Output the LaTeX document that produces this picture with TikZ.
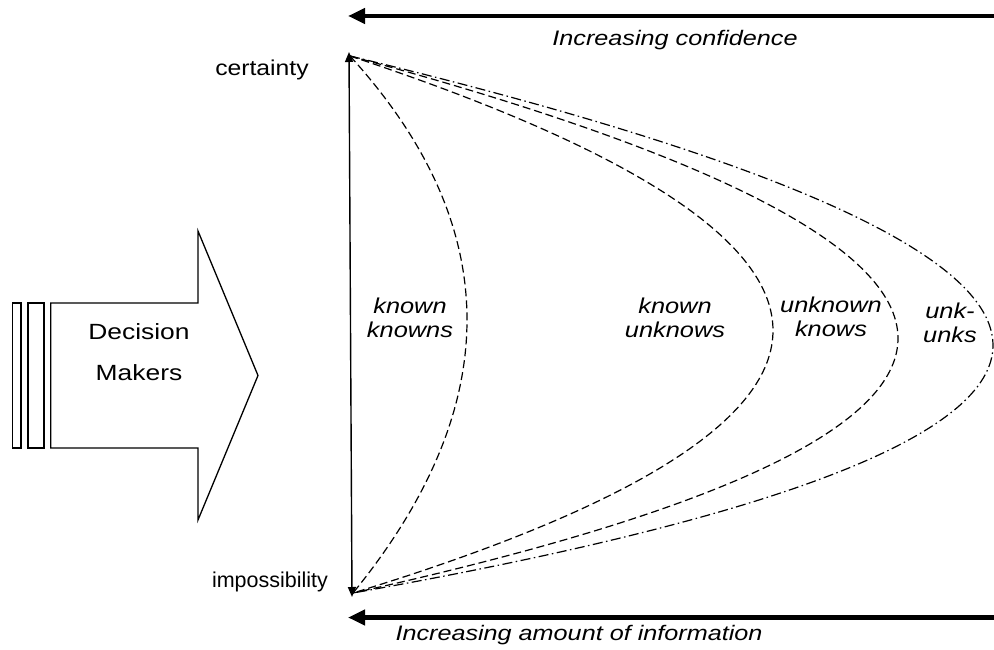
\documentclass[tikz,border=0pt]{standalone}
\usepackage{fontspec}
\setmainfont{Liberation Sans}
\usetikzlibrary{arrows.meta,calc}

\begin{document}
\begin{tikzpicture}[x=1pt,y=-1pt,
  bigarrow/.style={line width=4.5pt,-{Triangle[length=17pt,width=15pt]}},
  scalearrow/.style={line width=1.4pt,{Triangle[length=10pt,width=8pt]}-{Triangle[length=10pt,width=8pt]}},
  zone/.style={line width=1.2pt,dash pattern=on 8pt off 4pt},
  outerzone/.style={line width=1.2pt,dash pattern=on 10pt off 3.5pt on 1.5pt off 3.5pt},
  outline/.style={line width=1.3pt,line join=miter},
  caption/.style={font=\fontsize{21}{24}\selectfont\itshape,inner sep=0pt,xscale=1.2,anchor=base},
  zonelabel/.style={font=\fontsize{21.5}{24}\selectfont\itshape,align=center,inner sep=0pt,xscale=1.18},
  endlabel/.style={font=\fontsize{21.5}{24}\selectfont,inner sep=0pt,anchor=base},
]
\useasboundingbox (0,0) rectangle (994,650);

% axis end points and curve end points
\coordinate (ytop) at (349,52);
\coordinate (ybot) at (352,597);
\coordinate (cs) at (350,56);
\coordinate (ce) at (353,593);

% long arrows along top and bottom
\coordinate (topR) at (994,16);
\coordinate (topL) at (348,16);
\coordinate (botR) at (994,617.5);
\coordinate (botL) at (348,617.5);
\draw[bigarrow] (topR) -- (topL);
\draw[bigarrow] (botR) -- (botL);
\node[caption] (conf) at (675,46) {Increasing confidence};
\node[caption] (info) at (579,640) {Increasing amount of information};

% vertical scale
\draw[scalearrow] (ybot) -- (ytop);
\node[endlabel,xscale=1.15] (cert) at (262,76) {certainty};
\node[endlabel] (imp) at (270,587) {impossibility};

% quadratic control points of the four zones
\coordinate (k1) at (582.5,311.5);
\coordinate (k2) at (1194.5,335.5);
\coordinate (k3) at (1444.5,351.5);
\coordinate (k4) at (1634.5,365.5);
\draw[zone] (cs) .. controls ($(cs)!2/3!(k1)$) and ($(ce)!2/3!(k1)$) .. (ce);
\draw[zone] (cs) .. controls ($(cs)!2/3!(k2)$) and ($(ce)!2/3!(k2)$) .. (ce);
\draw[zone] (cs) .. controls ($(cs)!2/3!(k3)$) and ($(ce)!2/3!(k3)$) .. (ce);
\draw[outerzone] (cs) .. controls ($(cs)!2/3!(k4)$) and ($(ce)!2/3!(k4)$) .. (ce);

\node[zonelabel] (kk) at (410,317.5) {known\\knowns};
\node[zonelabel] (ku) at (675,317.5) {known\\unknows};
\node[zonelabel] (uk) at (831,316.5) {unknown\\knows};
\node[zonelabel] (uu) at (950,322.5) {unk-\\unks};

% decision makers block arrow
\draw[outline] (50.7,303) -- (198,303) -- (198,231) -- (258,375.5)
  -- (198,520) -- (198,448) -- (50.7,448) -- cycle;
\draw[outline] (12.7,303) rectangle (21,448);
\draw[outline] (28,303) rectangle (44,448);
\node[font=\fontsize{22}{41}\selectfont,align=center,inner sep=0pt,xscale=1.2] (dm) at (139,352) {Decision\\Makers};
\end{tikzpicture}
\end{document}
